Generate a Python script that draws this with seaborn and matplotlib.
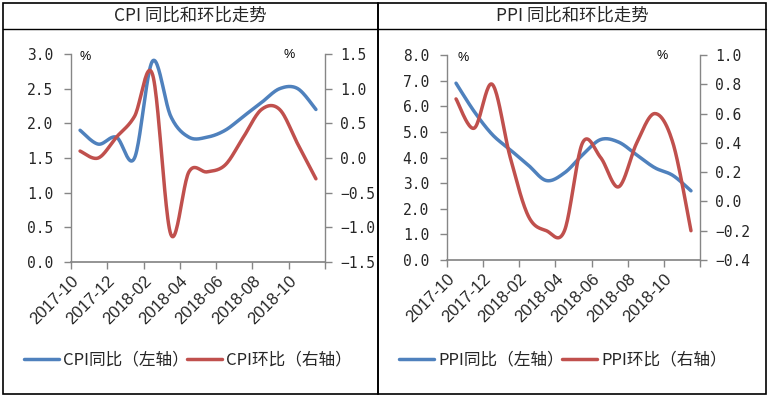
import numpy as np
import pandas as pd
import matplotlib
matplotlib.use("Agg")
import matplotlib.pyplot as plt
import seaborn as sns
from matplotlib.patches import Rectangle
from matplotlib.lines import Line2D
import matplotlib.transforms as mtrans

sns.set_theme(style="white")
plt.rcParams['font.family'] = ['Liberation Sans', 'Noto Sans CJK SC', 'DejaVu Sans']
plt.rcParams['axes.unicode_minus'] = True

months = ["2017-10", "2017-11", "2017-12", "2018-01", "2018-02", "2018-03", "2018-04",
          "2018-05", "2018-06", "2018-07", "2018-08", "2018-09", "2018-10", "2018-11"]
tick_labels = ["2017-10", "2017-12", "2018-02", "2018-04", "2018-06", "2018-08", "2018-10", ""]

cpi_yoy = [1.9, 1.7, 1.8, 1.5, 2.9, 2.1, 1.8, 1.8, 1.9, 2.1, 2.3, 2.5, 2.5, 2.2]
cpi_mom = [0.1, 0.0, 0.3, 0.6, 1.2, -1.1, -0.2, -0.2, -0.1, 0.3, 0.7, 0.7, 0.2, -0.3]
ppi_yoy = [6.9, 5.8, 4.9, 4.3, 3.7, 3.1, 3.4, 4.1, 4.7, 4.6, 4.1, 3.6, 3.3, 2.7]
ppi_mom = [0.7, 0.5, 0.8, 0.3, -0.1, -0.2, -0.2, 0.4, 0.3, 0.1, 0.4, 0.6, 0.4, -0.2]

BLUE = "#4F81BD"
RED = "#C0504D"
GRAY = "#868686"

W, H = 771, 398
fig = plt.figure(figsize=(W / 100, H / 100), dpi=100)


def smooth(y, n=24):
    """Catmull-Rom style smoothing (like Excel's smoothed line) for drawing."""
    x = np.arange(len(y), dtype=float)
    y = np.asarray(y, dtype=float)
    P = np.column_stack([x, y])
    pts = []
    for i in range(len(P) - 1):
        p0 = P[i - 1] if i > 0 else P[i]
        p1 = P[i]
        p2 = P[i + 1]
        p3 = P[i + 2] if i + 2 < len(P) else P[i + 1]
        t = np.linspace(0, 1, n, endpoint=(i == len(P) - 2))[:, None]
        c = 0.5 * ((2 * p1) + (-p0 + p2) * t + (2 * p0 - 5 * p1 + 4 * p2 - p3) * t ** 2
                   + (-p0 + 3 * p1 - 3 * p2 + p3) * t ** 3)
        pts.append(c)
    pts = np.vstack(pts)
    return pts[:, 0], pts[:, 1]


def px_axes(x0, x1, ytop, ybot):
    return fig.add_axes([x0 / W, (H - ybot) / H, (x1 - x0) / W, (ybot - ytop) / H])


def style_axis(ax, side):
    for s in ax.spines.values():
        s.set_visible(False)
    ax.spines[side].set_visible(True)
    ax.spines[side].set_color(GRAY)
    ax.spines[side].set_linewidth(1.0)
    ax.set_facecolor("none")


MONO = ['DejaVu Sans Mono', 'Liberation Mono']
CJK = ['Noto Sans CJK SC', 'DejaVu Sans']


def draw_panel(x0, x1, ytop, ybot, title, yoy, mom, lname, rname,
               lylim, lyticks, rylim, ryticks, panel_x0, panel_x1, pct_l, pct_r):
    ax = px_axes(x0, x1, ytop, ybot)
    ax2 = ax.twinx()
    xs, ys = smooth(yoy)
    xr, yr = smooth(mom)
    sns.lineplot(x=xs, y=ys, ax=ax, color=BLUE, lw=2.5, sort=False, estimator=None)
    sns.lineplot(x=xr, y=yr, ax=ax2, color=RED, lw=2.5, sort=False, estimator=None)
    ax.set_xlim(-0.5, len(months) - 0.5)
    ax.set_ylim(*lylim)
    ax2.set_ylim(*rylim)
    ax.set_yticks(lyticks)
    ax.set_yticklabels([f"{v:.1f}" for v in lyticks], family=MONO, fontsize=10.5)
    ax2.set_yticks(ryticks)
    ax2.set_yticklabels([f"{v:.1f}".replace("-", "\u2212") for v in ryticks],
                        family=MONO, fontsize=10.5)
    tpos = np.arange(-0.5, len(months), 2)
    ax.set_xticks(tpos)
    ax.set_xticklabels(tick_labels, rotation=45, ha="right", va="top",
                       rotation_mode="anchor", fontsize=12)
    off = mtrans.ScaledTranslation(12 / 100, -10 / 100, fig.dpi_scale_trans)
    for lab in ax.get_xticklabels():
        lab.set_transform(lab.get_transform() + off)
    style_axis(ax, "left")
    ax.spines["bottom"].set_visible(True)
    ax.spines["bottom"].set_color(GRAY)
    style_axis(ax2, "right")
    ax.tick_params(axis="x", direction="out", length=5, color=GRAY, width=1,
                   pad=3, bottom=True)
    ax.tick_params(axis="y", direction="out", length=5, color=GRAY, width=1,
                   pad=8, left=True)
    ax2.tick_params(axis="y", direction="out", length=5, color=GRAY, width=1,
                    pad=6, right=True)
    ax.grid(False)
    ax2.grid(False)
    ax.set_xlabel("")
    ax.set_ylabel("")
    ax2.set_ylabel("")
    ax.text(pct_l, 1.015, "%", transform=ax.transAxes, fontsize=9, va="top", ha="left",
            color="black")
    ax2.text(pct_r, 1.025, "%", transform=ax.transAxes, fontsize=9, va="top", ha="left",
             color="black")
    # panel frame and title
    fig.add_artist(Rectangle((panel_x0 / W, (H - 394) / H), (panel_x1 - panel_x0) / W,
                             (394 - 3) / H, transform=fig.transFigure, fill=False,
                             ec="black", lw=1.2))
    fig.add_artist(Line2D([panel_x0 / W, panel_x1 / W], [(H - 29) / H, (H - 29) / H],
                          transform=fig.transFigure, color="black", lw=1.0))
    fig.text((panel_x0 + panel_x1) / 2 / W, (H - 16) / H, title, ha="center", va="center",
             fontsize=12.5, family=CJK)
    # legend
    handles = [Line2D([], [], color=BLUE, lw=2.5), Line2D([], [], color=RED, lw=2.5)]
    fig.legend(handles, [lname, rname], loc="center left",
               bbox_to_anchor=((panel_x0 + 6) / W, (H - 360) / H),
               ncol=2, frameon=False, handlelength=2.1,
               handletextpad=0.25, columnspacing=-0.1,
               prop={'family': CJK, 'size': 12})
    return ax, ax2


draw_panel(71, 325, 54, 262, "CPI 同比和环比走势", cpi_yoy, cpi_mom,
           "CPI同比（左轴）", "CPI环比（右轴）",
           (0, 3.0), np.arange(0, 3.01, 0.5), (-1.5, 1.5), np.arange(-1.5, 1.51, 0.5),
           3, 378, 0.035, 0.835)
draw_panel(447, 700, 55, 260, "PPI 同比和环比走势", ppi_yoy, ppi_mom,
           "PPI同比（左轴）", "PPI环比（右轴）",
           (0, 8.0), np.arange(0, 8.01, 1.0), (-0.4, 1.0), np.arange(-0.4, 1.01, 0.2),
           378, 766, 0.04, 0.83)

fig.savefig("out.png", dpi=100)
